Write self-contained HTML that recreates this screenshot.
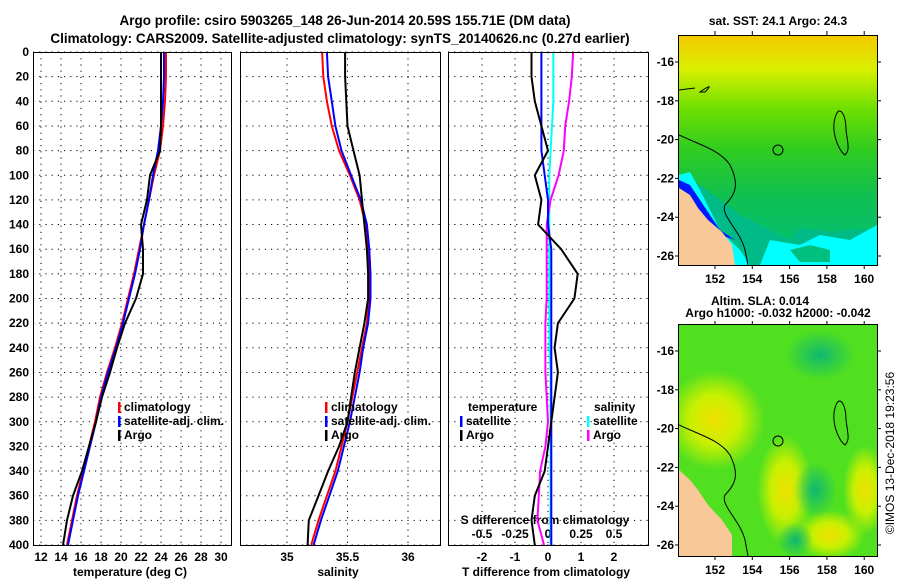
<!DOCTYPE html>
<html><head><meta charset="utf-8"><style>
body{margin:0;background:#fff;width:900px;height:580px;overflow:hidden}
svg{font-family:"Liberation Sans",sans-serif;font-weight:bold;font-size:12px}
</style></head><body>
<svg id="c" width="900" height="580">
<defs>
<linearGradient id="g1" x1="0" y1="0" x2="0" y2="1">
<stop offset="0" stop-color="#f5c800"/><stop offset="0.15" stop-color="#d8f000"/><stop offset="0.32" stop-color="#6ee000"/><stop offset="0.5" stop-color="#30cc20"/><stop offset="0.7" stop-color="#10c050"/><stop offset="1" stop-color="#00c080"/></linearGradient>
<radialGradient id="y1" cx="0.5" cy="0.5" r="0.5"><stop offset="0" stop-color="#f0e000"/><stop offset="0.5" stop-color="#c8f000"/><stop offset="1" stop-color="#c8f000" stop-opacity="0"/></radialGradient>
<radialGradient id="t1" cx="0.5" cy="0.5" r="0.5"><stop offset="0" stop-color="#10b870"/><stop offset="1" stop-color="#10b870" stop-opacity="0"/></radialGradient>
<clipPath id="cm1"><rect x="679" y="35" width="198" height="230"/></clipPath>
<clipPath id="cm2"><rect x="679" y="325" width="198" height="231"/></clipPath>
</defs>
<text x="345" y="25" text-anchor="middle" font-size="13.5">Argo profile: csiro 5903265_148 26-Jun-2014 20.59S 155.71E (DM data)</text>
<text x="340" y="43" text-anchor="middle" font-size="13.5">Climatology: CARS2009. Satellite-adjusted climatology: synTS_20140626.nc (0.27d earlier)</text>
<g id="plots"></g>
<g>
<text x="778" y="25" text-anchor="middle">sat. SST: 24.1 Argo: 24.3</text>
<g clip-path="url(#cm1)">
<rect x="679" y="35" width="198" height="230" fill="url(#g1)"/>
<polygon points="679,180 700,185 720,200 740,215 760,225 790,240 800,228 830,232 877,228 877,265 700,265" fill="#00ba88"/>
<polygon points="760,265 770,240 800,245 820,235 850,240 877,225 877,265" fill="#00ffff"/>
<polygon points="790,250 810,245 830,250 830,262 800,262" fill="#00c080"/>
<polygon points="679,175 690,172 700,190 710,210 720,230 740,250 750,265 679,265" fill="#00ffff"/>
<polygon points="679,180 690,185 700,200 710,215 720,230 735,240 742,250 735,240 720,235 705,220 690,200 679,195" fill="#0018ff"/>
<polygon points="679,188 690,195 698,208 708,220 722,232 732,245 735,265 679,265" fill="#f8c898"/>
<path d="M679,135 C700,145 720,150 730,165 C740,185 735,195 725,205 C720,215 740,230 745,250 L748,265" fill="none" stroke="#000"/>
<path d="M836,115 C840,105 846,115 846,130 C848,145 850,150 845,155 C838,150 830,130 836,115Z" fill="none" stroke="#000"/>
<circle cx="778" cy="150" r="5" fill="none" stroke="#000"/>
<path d="M679,90 L695,88 M700,92 C710,85 712,85 705,92Z" fill="none" stroke="#000"/>
</g>
<rect x="678.5" y="35.5" width="199" height="230" fill="none" stroke="#000"/>
</g>
<g>
<text x="760" y="305" text-anchor="middle">Altim. SLA: 0.014</text>
<text x="778" y="317" text-anchor="middle">Argo h1000: -0.032 h2000: -0.042</text>
<g clip-path="url(#cm2)">
<rect x="679" y="325" width="198" height="231" fill="#50e020"/>
<ellipse cx="715" cy="420" rx="50" ry="50" fill="url(#y1)"/>
<ellipse cx="785" cy="490" rx="28" ry="55" fill="url(#y1)"/>
<ellipse cx="830" cy="535" rx="35" ry="25" fill="url(#y1)"/>
<ellipse cx="865" cy="490" rx="22" ry="45" fill="url(#y1)"/>
<ellipse cx="820" cy="355" rx="35" ry="25" fill="url(#t1)"/>
<ellipse cx="815" cy="490" rx="22" ry="28" fill="url(#t1)"/>
<ellipse cx="795" cy="540" rx="18" ry="18" fill="url(#t1)"/>
<polygon points="679,470 690,480 698,490 708,505 722,520 732,535 732,556 679,556" fill="#f8c898"/>
<path d="M679,425 C700,435 720,440 730,455 C740,475 735,485 725,495 C720,505 740,520 745,540 L748,556" fill="none" stroke="#000"/>
<path d="M836,405 C840,395 846,405 846,420 C848,435 850,440 845,445 C838,440 830,420 836,405Z" fill="none" stroke="#000"/>
<circle cx="778" cy="441" r="5" fill="none" stroke="#000"/>
</g>
<rect x="678.5" y="324.5" width="199" height="232" fill="none" stroke="#000"/>
</g>
<text transform="translate(894,453) rotate(-90)" text-anchor="middle" font-weight="normal" font-size="12">©IMOS 13-Dec-2018 19:23:56</text>
</svg>
<script>
const depths=[0,20,40,60,80,100,120,140,160,180,200,220,240,260,280,300,320,340,360,380,400];
const climT=[24.5,24.5,24.4,24.2,23.9,23.3,22.8,22.3,21.8,21.3,20.7,20.1,19.4,18.6,17.9,17.4,16.8,16.2,15.6,15.1,14.6];
const satT=[24.3,24.3,24.2,24.0,23.7,23.2,22.8,22.3,21.9,21.4,20.8,20.2,19.5,18.7,18.0,17.5,16.9,16.3,15.7,15.2,14.7];
const argoT=[24.0,24.0,24.0,24.0,23.9,22.9,22.6,22.0,22.2,22.2,21.5,20.4,19.6,18.9,18.1,17.5,16.8,16.1,15.2,14.6,14.2];
const climS=[35.29,35.30,35.33,35.37,35.43,35.52,35.60,35.65,35.67,35.68,35.68,35.66,35.62,35.58,35.54,35.50,35.45,35.40,35.33,35.26,35.20];
const satS=[35.33,35.34,35.37,35.40,35.45,35.53,35.61,35.66,35.68,35.69,35.69,35.67,35.63,35.60,35.56,35.52,35.47,35.42,35.35,35.28,35.22];
const argoS=[35.48,35.48,35.49,35.50,35.55,35.60,35.62,35.64,35.66,35.67,35.67,35.64,35.60,35.56,35.53,35.50,35.43,35.34,35.26,35.18,35.17];
const yTicks=[0,20,40,60,80,100,120,140,160,180,200,220,240,260,280,300,320,340,360,380,400];
const tTicks=[12,14,16,18,20,22,24,26,28,30];
const sTicks=[35,35.5,36];
const dTicks=[-2,-1,0,1,2];
const sdTicks=[-0.5,-0.25,0,0.25,0.5];
const sdLabels=['-0.5','-0.25','0','0.25','0.5'];
const lonTicks=[152,154,156,158,160];
const latTicks=[-16,-18,-20,-22,-24,-26];

const NS='http://www.w3.org/2000/svg';
const G=document.getElementById('plots');
function el(t,a,p){const e=document.createElementNS(NS,t);for(const k in a)e.setAttribute(k,a[k]);(p||G).appendChild(e);return e;}
function txt(x,y,s,anchor,p){const e=el('text',{x:x,y:y,'text-anchor':anchor||'middle'},p);e.textContent=s;return e;}
const Y=d=>52+(d/400)*493;
const xT=v=>41+(v-12)*10;
const xS=v=>287+(v-35)*121;
const xD=v=>548+v*33;
const xSD=v=>548+v*132;
const panels=[[33,231],[240,440],[448,648]];
panels.forEach((p,i)=>{
  yTicks.forEach(d=>{el('line',{x1:p[0],x2:p[1],y1:Y(d),y2:Y(d),stroke:'#000','stroke-dasharray':'1.2,5'});});
});
yTicks.forEach(d=>{txt(29,Y(d)+4,String(d),'end');});
tTicks.forEach(v=>{el('line',{x1:xT(v),x2:xT(v),y1:52,y2:545,stroke:'#000','stroke-dasharray':'1.2,5'});txt(xT(v),561,String(v));});
sTicks.forEach(v=>{el('line',{x1:xS(v),x2:xS(v),y1:52,y2:545,stroke:'#000','stroke-dasharray':'1.2,5'});txt(xS(v),561,String(v));});
dTicks.forEach(v=>{el('line',{x1:xD(v),x2:xD(v),y1:52,y2:545,stroke:'#000','stroke-dasharray':'1.2,5'});txt(xD(v),561,String(v));});
sdTicks.forEach((v,i)=>{txt(xSD(v),538,sdLabels[i]);});
txt(130,576,'temperature (deg C)');txt(338,576,'salinity');txt(546,576,'T difference from climatology');
txt(545,524,'S difference from climatology');
function line(xs,ys,fx,color,name){
  const pts=ys.map((v,i)=>fx(v).toFixed(1)+','+Y(depths[i]).toFixed(1)).join(' ');
  const e=el('polyline',{points:pts,fill:'none',stroke:color,'stroke-width':2});
  
  
}
line(depths,climT,xT,'#f00','temp-climatology-line');
line(depths,satT,xT,'#00f','temp-satellite-line');
line(depths,argoT,xT,'#000','temp-argo-line');
line(depths,climS,xS,'#f00','sal-climatology-line');
line(depths,satS,xS,'#00f','sal-satellite-line');
line(depths,argoS,xS,'#000','sal-argo-line');
line(depths,satS.map((v,i)=>v-climS[i]),xSD,'#0ff','sdiff-satellite-line');
line(depths,argoS.map((v,i)=>v-climS[i]),xSD,'#f0f','sdiff-argo-line');
line(depths,satT.map((v,i)=>v-climT[i]),xD,'#00f','tdiff-satellite-line');
line(depths,argoT.map((v,i)=>v-climT[i]),xD,'#000','tdiff-argo-line');
panels.forEach(p=>{el('rect',{x:p[0]+0.5,y:52.5,width:p[1]-p[0],height:493,fill:'none',stroke:'#000'});});
function leg(x,y,c,s){el('rect',{x:x,y:y-9,width:2.5,height:11,fill:c});txt(x+6,y,s,'start');}
[[118],[325]].forEach(a=>{const x=a[0];leg(x,411,'#f00','climatology');leg(x,425,'#00f','satellite-adj. clim.');leg(x,439,'#000','Argo');});
txt(468,411,'temperature','start');leg(460,425,'#00f','satellite');leg(460,439,'#000','Argo');
txt(594,411,'salinity','start');leg(587,425,'#0ff','satellite');leg(587,439,'#f0f','Argo');
const M=document.getElementById('c');
[[35,265,62,256],[325,556,351,545]].forEach(m=>{
  lonTicks.forEach(v=>{const x=715+(v-152)*18.65;
    el('line',{x1:x,x2:x,y1:m[0]-4,y2:m[0],stroke:'#000'},M);el('line',{x1:x,x2:x,y1:m[1],y2:m[1]+4,stroke:'#000'},M);
    txt(x,m[1]+18,String(v),'middle',M);});
  latTicks.forEach(v=>{const y=m[2]+(-16-v)*(m[3]-m[2])/10;
    el('line',{x1:877,x2:881,y1:y,y2:y,stroke:'#000'},M);
    el('line',{x1:675,x2:679,y1:y,y2:y,stroke:'#000'},M);
    txt(674,y+4,String(v),'end',M);});
});
</script>
</body></html>
